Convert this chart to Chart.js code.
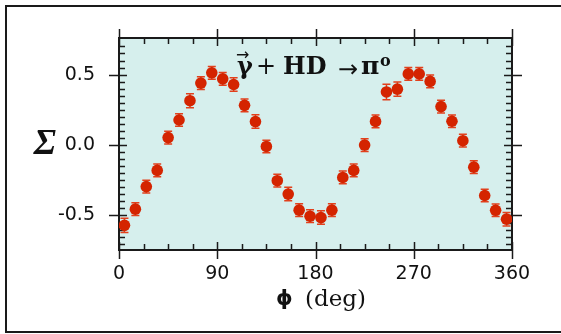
<!DOCTYPE html>
<html>
<head>
<meta charset="utf-8">
<script src="https://cdn.jsdelivr.net/npm/chart.js@4"></script>
<style>
  html, body { margin: 0; padding: 0; background: #fff; }
  #wrap { width: 561px; height: 334px; position: relative; }
</style>
</head>
<body>
<div id="wrap"><canvas id="sigmaChart" width="561" height="334"></canvas></div>
<script>
// Datos
const phiDeg = [5, 15, 25, 35, 45, 55, 65, 75, 85, 95, 105, 115, 125, 135, 145, 155, 165, 175,
                185, 195, 205, 215, 225, 235, 245, 255, 265, 275, 285, 295, 305, 315, 325, 335, 345, 355];
const sigma = [-0.570, -0.455, -0.295, -0.180, 0.053, 0.178, 0.315, 0.440, 0.513, 0.470, 0.430, 0.282,
               0.167, -0.010, -0.253, -0.348, -0.462, -0.505, -0.515, -0.462, -0.230, -0.180, 0.000, 0.168,
               0.377, 0.397, 0.505, 0.505, 0.452, 0.273, 0.169, 0.031, -0.157, -0.358, -0.463, -0.526];
const sigmaErr = [0.050, 0.045, 0.045, 0.045, 0.045, 0.045, 0.050, 0.045, 0.045, 0.045, 0.048, 0.045,
                  0.048, 0.045, 0.045, 0.048, 0.045, 0.045, 0.048, 0.045, 0.045, 0.045, 0.045, 0.045,
                  0.055, 0.050, 0.045, 0.045, 0.045, 0.045, 0.045, 0.045, 0.045, 0.045, 0.045, 0.048];
const xTicks = [0, 90, 180, 270, 360];
const yTicks = [-0.5, 0.0, 0.5];

const ink = '#1a1a1a';

// Fondo, marco, marcas menores y barras de error
const framePlugin = {
  id: 'frame',
  beforeDraw(chart) {
    const { ctx, chartArea: a } = chart;
    ctx.save();
    ctx.fillStyle = '#d6efed';
    ctx.fillRect(a.left, a.top, a.right - a.left, a.bottom - a.top);
    // marco exterior (sin borde derecho)
    ctx.strokeStyle = ink;
    ctx.lineWidth = 2;
    ctx.beginPath();
    ctx.moveTo(565, 6); ctx.lineTo(6, 6); ctx.lineTo(6, 332); ctx.lineTo(565, 332);
    ctx.stroke();
    ctx.restore();
  },
  beforeDatasetsDraw(chart) {
    const { ctx, chartArea: a, scales: { x, y } } = chart;
    ctx.save();
    ctx.strokeStyle = ink;
    ctx.lineWidth = 1.5;
    ctx.beginPath();
    // marcas menores
    for (let v = 0; v <= 360; v += 22.5) {
      const px = Math.round(x.getPixelForValue(v)) + 0.5;
      ctx.moveTo(px, a.top); ctx.lineTo(px, a.top + 6);
      ctx.moveTo(px, a.bottom); ctx.lineTo(px, a.bottom - 6);
    }
    for (let v = -0.7; v <= 0.75; v += 0.05) {
      const py = Math.round(y.getPixelForValue(v)) + 0.5;
      ctx.moveTo(a.left, py); ctx.lineTo(a.left + 6, py);
      ctx.moveTo(a.right, py); ctx.lineTo(a.right - 6, py);
    }
    // marcas mayores
    xTicks.forEach(v => {
      const px = Math.round(x.getPixelForValue(v)) + 0.5;
      ctx.moveTo(px, a.top - 9); ctx.lineTo(px, a.top + 8);
      ctx.moveTo(px, a.bottom + 9); ctx.lineTo(px, a.bottom - 8);
    });
    yTicks.forEach(v => {
      const py = Math.round(y.getPixelForValue(v)) + 0.5;
      ctx.moveTo(a.left - 10, py); ctx.lineTo(a.left + 8, py);
      ctx.moveTo(a.right + 10, py); ctx.lineTo(a.right - 8, py);
    });
    ctx.stroke();
    ctx.lineWidth = 2;
    ctx.strokeRect(a.left, a.top, a.right - a.left, a.bottom - a.top);

    // barras de error
    ctx.strokeStyle = '#e2401c';
    ctx.lineWidth = 1.5;
    ctx.beginPath();
    phiDeg.forEach((p, i) => {
      const px = x.getPixelForValue(p);
      const y1 = y.getPixelForValue(sigma[i] + sigmaErr[i]);
      const y2 = y.getPixelForValue(sigma[i] - sigmaErr[i]);
      ctx.moveTo(px, y1); ctx.lineTo(px, y2);
      ctx.moveTo(px - 4, y1); ctx.lineTo(px + 4, y1);
      ctx.moveTo(px - 4, y2); ctx.lineTo(px + 4, y2);
    });
    ctx.stroke();
    ctx.restore();
  },
  afterDraw(chart) {
    const { ctx } = chart;
    ctx.save();
    ctx.fillStyle = '#111';
    ctx.textBaseline = 'alphabetic';
    ctx.textAlign = 'left';
    // título de la reacción
    ctx.font = 'bold 24px "DejaVu Serif"';
    ctx.fillText('γ', 237, 74);
    ctx.font = '16px "DejaVu Sans"';
    ctx.fillText('→', 236, 60);
    ctx.font = '24px "DejaVu Serif"';
    ctx.fillText('+', 256, 74);
    ctx.font = 'bold 24px "DejaVu Serif"';
    ctx.fillText('HD', 283, 74);
    ctx.font = '24px "DejaVu Sans"';
    ctx.fillText('→', 338, 77);
    ctx.font = 'bold 25px "DejaVu Serif"';
    ctx.fillText('π', 361, 74);
    ctx.font = 'bold 16px "DejaVu Serif"';
    ctx.fillText('o', 380, 66);
    // Σ del eje y
    ctx.textAlign = 'center';
    ctx.font = 'bold italic 36px "Liberation Serif"';
    ctx.fillText('Σ', 45, 154);
    // título del eje x
    ctx.textAlign = 'left';
    ctx.font = 'bold 21px "DejaVu Sans"';
    ctx.fillText('ϕ', 276, 305);
    ctx.font = '23px "DejaVu Serif"';
    ctx.fillText('(deg)', 305, 306);
    ctx.restore();
  }
};

const ctx = document.getElementById('sigmaChart').getContext('2d');
const chart = new Chart(ctx, {
  type: 'scatter',
  data: {
    datasets: [{
      label: 'Σ',
      data: phiDeg.map((p, i) => ({ x: p, y: sigma[i] })),
      backgroundColor: '#d42400',
      borderColor: '#d42400',
      borderWidth: 0,
      pointRadius: 5.8,
      pointHoverRadius: 5.8
    }]
  },
  options: {
    responsive: false,
    animation: false,
    events: [],
    layout: { padding: { left: 0, right: 49, top: 38, bottom: 0 } },
    plugins: {
      legend: { display: false },
      tooltip: { enabled: false }
    },
    scales: {
      x: {
        type: 'linear',
        min: 0,
        max: 360,
        afterFit: s => { s.height = 84; },
        afterBuildTicks: s => { s.ticks = xTicks.map(v => ({ value: v })); },
        grid: { display: false },
        border: { display: false },
        ticks: {
          color: '#111',
          padding: 5,
          maxRotation: 0,
          font: { family: '"DejaVu Sans"', size: 19 }
        }
      },
      y: {
        min: -0.745,
        max: 0.76,
        afterFit: s => { s.width = 119; },
        afterBuildTicks: s => { s.ticks = yTicks.map(v => ({ value: v })); },
        grid: { display: false },
        border: { display: false },
        ticks: {
          color: '#111',
          padding: 16,
          font: { family: '"DejaVu Sans"', size: 19 },
          callback: v => v.toFixed(1)
        }
      }
    }
  },
  plugins: [framePlugin]
});
</script>
</body>
</html>
